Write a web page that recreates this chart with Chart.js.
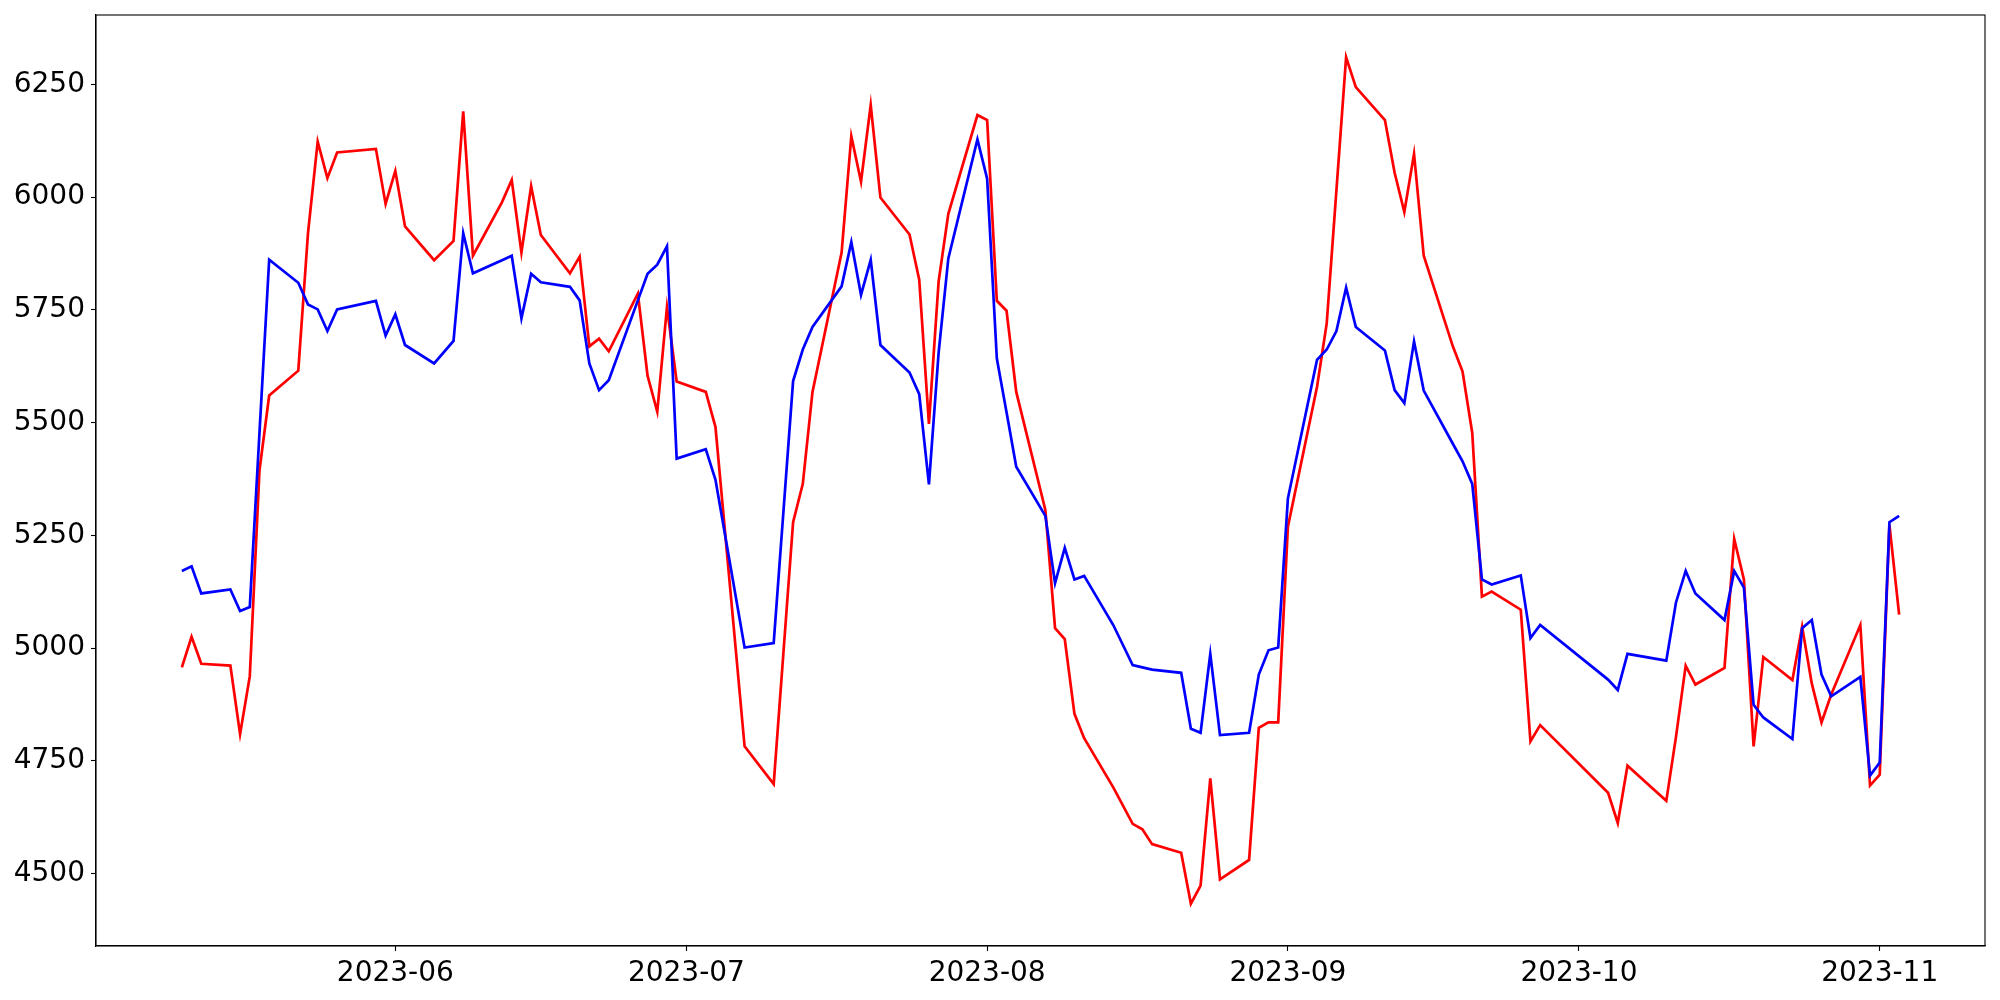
<!DOCTYPE html>
<html>
<head>
<meta charset="utf-8">
<script src="https://cdn.jsdelivr.net/npm/chart.js@4.4.0/dist/chart.umd.min.js"></script>
<style>
html,body{margin:0;padding:0;background:#fff;}
canvas{display:block;}
</style>
</head>
<body>
<canvas id="c" width="2000" height="1000"></canvas>
<script>
const dates = [
'2023-05-10','2023-05-11','2023-05-12','2023-05-15','2023-05-16','2023-05-17','2023-05-18','2023-05-19','2023-05-22','2023-05-23','2023-05-24','2023-05-25','2023-05-26','2023-05-30','2023-05-31',
'2023-06-01','2023-06-02','2023-06-05','2023-06-07','2023-06-08','2023-06-09','2023-06-12','2023-06-13','2023-06-14','2023-06-15','2023-06-16','2023-06-19','2023-06-20','2023-06-21','2023-06-22','2023-06-23','2023-06-26','2023-06-27','2023-06-28','2023-06-29','2023-06-30',
'2023-07-03','2023-07-04','2023-07-07','2023-07-10','2023-07-12','2023-07-13','2023-07-14','2023-07-17','2023-07-18','2023-07-19','2023-07-20','2023-07-21','2023-07-24','2023-07-25','2023-07-26','2023-07-27','2023-07-28','2023-07-31',
'2023-08-01','2023-08-02','2023-08-03','2023-08-04','2023-08-07','2023-08-08','2023-08-09','2023-08-10','2023-08-11','2023-08-14','2023-08-16','2023-08-17','2023-08-18','2023-08-21','2023-08-22','2023-08-23','2023-08-24','2023-08-25','2023-08-28','2023-08-29','2023-08-30','2023-08-31',
'2023-09-01','2023-09-04','2023-09-05','2023-09-06','2023-09-07','2023-09-08','2023-09-11','2023-09-12','2023-09-13','2023-09-14','2023-09-15','2023-09-18','2023-09-19','2023-09-20','2023-09-21','2023-09-22','2023-09-25','2023-09-26','2023-09-27',
'2023-10-04','2023-10-05','2023-10-06','2023-10-10','2023-10-11','2023-10-12','2023-10-13','2023-10-16','2023-10-17','2023-10-18','2023-10-19','2023-10-20','2023-10-23','2023-10-24','2023-10-25','2023-10-26','2023-10-27','2023-10-30','2023-10-31',
'2023-11-01','2023-11-02','2023-11-03'
];

const blueValues = [
5171,5181,5121,5130,5082,5091,5477,5861,5810,5762,5751,5703,5751,5770,5693,
5740,5672,5631,5681,5920,5831,5860,5870,5731,5830,5811,5801,5771,5631,5572,5594,5771,5830,5850,5891,5420,
5441,5373,5001,5011,5592,5662,5712,5802,5900,5783,5861,5672,5611,5563,5363,5655,5864,6128,
6041,5642,5523,5402,5293,5144,5222,5152,5160,5051,4962,4957,4952,4945,4821,4812,4987,4807,4812,4941,4995,5001,
5332,5639,5662,5703,5799,5712,5660,5572,5543,5680,5571,5453,5414,5364,5152,5141,5161,5022,5051,
4930,4907,4987,4972,5101,5171,5121,5062,5171,5134,4874,4846,4798,5044,5062,4941,4893,4936,4717,
4746,5279,5293
];

const redValues = [
4957,5025,4965,4961,4809,4937,5394,5560,5615,5920,6123,6042,6099,6107,5985,
6058,5935,5860,5903,6190,5870,5989,6038,5877,6024,5916,5831,5868,5669,5686,5658,5786,5604,5524,5756,5591,
5568,5490,4782,4698,5279,5364,5568,5877,6135,6034,6204,5999,5917,5817,5497,5813,5963,6182,
6171,5770,5748,5568,5306,5044,5020,4854,4800,4691,4610,4598,4565,4546,4433,4473,4711,4487,4530,4823,4835,4835,
5269,5579,5720,6015,6310,6244,6171,6054,5967,6096,5870,5669,5613,5477,5114,5125,5085,4793,4829,
4679,4612,4739,4661,4803,4961,4919,4956,5242,5152,4782,4980,4929,5047,4921,4835,4897,5051,4695,
4719,5273,5074
];

const xTickLabels = ['2023-06','2023-07','2023-08','2023-09','2023-10','2023-11'];
const yTickValues = [4500,4750,5000,5250,5500,5750,6000,6250];

function dayNum(s){
  const p = s.split('-').map(Number);
  return Date.UTC(p[0], p[1]-1, p[2] || 1) / 86400000;
}

const xs = dates.map(dayNum);
const xMin0 = Math.min(...xs), xMax0 = Math.max(...xs);
const xPad = (xMax0 - xMin0) * 0.05;
const allY = blueValues.concat(redValues);
const yMin0 = Math.min(...allY), yMax0 = Math.max(...allY);
const yPad = (yMax0 - yMin0) * 0.05;

const xTickVals = xTickLabels.map(l => dayNum(l + '-01'));

const framePlugin = {
  id: 'frame',
  beforeDraw(chart){
    const ctx = chart.ctx;
    ctx.save();
    ctx.fillStyle = '#fff';
    ctx.fillRect(0,0,chart.width,chart.height);
    ctx.restore();
  },
  afterDraw(chart){
    const a = chart.chartArea, ctx = chart.ctx;
    ctx.save();
    ctx.strokeStyle = '#000';
    ctx.lineWidth = 1.1;
    ctx.strokeRect(a.left, a.top, a.right - a.left, a.bottom - a.top);
    ctx.restore();
  }
};

const font = {family: 'DejaVu Sans', size: 28};

new Chart(document.getElementById('c'), {
  type: 'line',
  data: {
    datasets: [
      {
        label: 'blue',
        data: xs.map((x,i) => ({x: x, y: blueValues[i]})),
        borderColor: '#0000ff',
        borderWidth: 2.7,
        pointRadius: 0,
        tension: 0,
        fill: false,
        order: 0
      },
      {
        label: 'red',
        data: xs.map((x,i) => ({x: x, y: redValues[i]})),
        borderColor: '#ff0000',
        borderWidth: 2.7,
        pointRadius: 0,
        tension: 0,
        fill: false,
        order: 1
      }
    ]
  },
  options: {
    responsive: false,
    devicePixelRatio: 1,
    animation: false,
    layout: {padding: {left: 0, top: 15, right: 15, bottom: 0}},
    plugins: {legend: {display: false}, tooltip: {enabled: false}, title: {display: false}},
    scales: {
      x: {
        type: 'linear',
        min: xMin0 - xPad,
        max: xMax0 + xPad,
        afterBuildTicks(scale){ scale.ticks = xTickVals.map(v => ({value: v})); },
        afterFit(scale){ scale.height = 54; scale.paddingLeft = 0; scale.paddingRight = 0; },
        ticks: {
          font: font, color: '#000', padding: 6, maxRotation: 0, autoSkip: false,
          callback(v){ const i = xTickVals.indexOf(v); return i >= 0 ? xTickLabels[i] : ''; }
        },
        grid: {display: true, drawOnChartArea: false, drawTicks: true, tickLength: 5, tickWidth: 1.1, tickColor: '#000'},
        border: {display: true, color: '#000', width: 1.1}
      },
      y: {
        type: 'linear',
        min: yMin0 - yPad,
        max: yMax0 + yPad,
        afterBuildTicks(scale){ scale.ticks = yTickValues.map(v => ({value: v})); },
        afterFit(scale){ scale.width = 96; scale.paddingTop = 0; scale.paddingBottom = 0; },
        ticks: {font: font, color: '#000', padding: 6, autoSkip: false, callback(v){ return String(v); }},
        grid: {display: true, drawOnChartArea: false, drawTicks: true, tickLength: 5, tickWidth: 1.1, tickColor: '#000'},
        border: {display: true, color: '#000', width: 1.1}
      }
    }
  },
  plugins: [framePlugin]
});
</script>
</body>
</html>
